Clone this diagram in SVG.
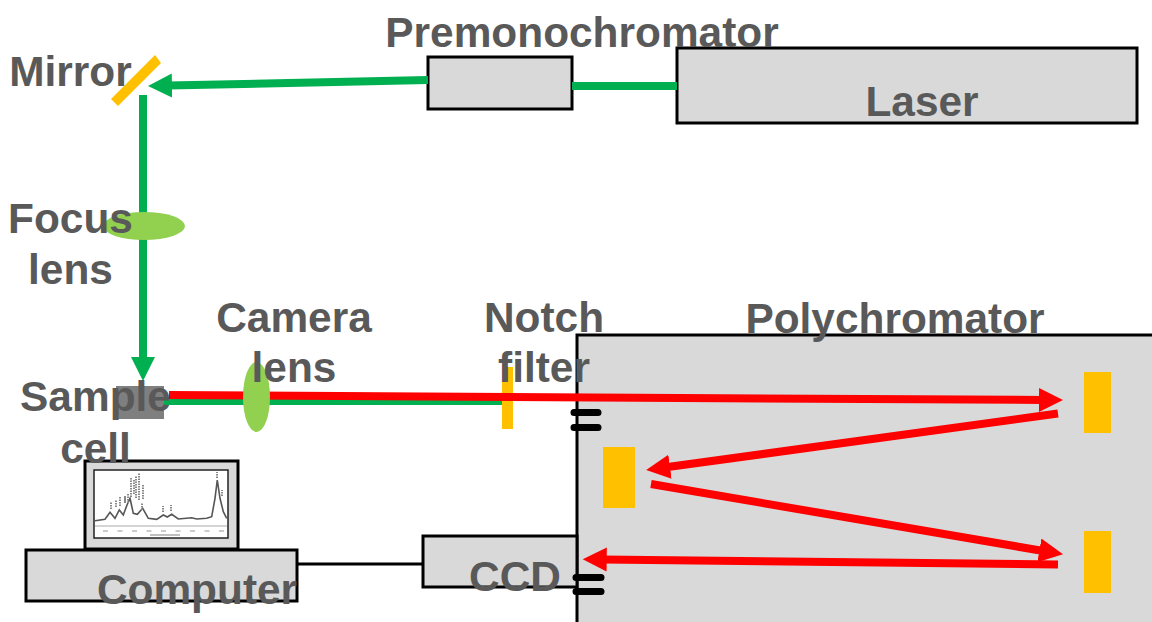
<svg xmlns="http://www.w3.org/2000/svg" width="1152" height="622" viewBox="0 0 1152 622">
<style>
.box{fill:#d9d9d9;stroke:#000;stroke-width:3}
.mir{fill:#ffc000}
.lens{fill:#92d050}
.g{stroke:#00b050;stroke-width:8;fill:none}
.r{stroke:#f00;stroke-width:8;fill:none}
.k{stroke:#000;fill:none}
.slit{stroke:#000;stroke-width:7;stroke-linecap:round}
text{font-family:"Liberation Sans",Arial,sans-serif;font-weight:700;font-size:42.400px;fill:#595959;text-anchor:middle}
</style>
<defs>
<marker id="ag" markerUnits="userSpaceOnUse" markerWidth="30" markerHeight="26" refX="4" refY="12" orient="auto"><path d="M0 0L24 12L0 24z" fill="#00b050"/></marker>
<marker id="ar" markerUnits="userSpaceOnUse" markerWidth="30" markerHeight="26" refX="4" refY="12" orient="auto"><path d="M0 0L24 12L0 24z" fill="#f00"/></marker>
</defs>
<g id="polychromator"><rect class="box" x="577" y="335" width="590" height="300"/></g>
<g id="laser"><rect class="box" x="677" y="48" width="460" height="75"/></g>
<g id="premonochromator"><rect class="box" x="428" y="57" width="144" height="52"/></g>
<g id="computer-base"><rect class="box" x="26" y="550" width="271" height="51"/></g>
<g id="ccd"><rect class="box" x="423" y="536" width="154" height="51"/></g>
<g id="notch-filter"><rect class="mir" x="502" y="367" width="11" height="62"/></g>
<g id="connectors">
<path class="g" d="M677 86H572"/>
<path class="g" d="M428 80L168 85.600" marker-end="url(#ag)"/>
<path class="g" d="M143 95V361" marker-end="url(#ag)"/>
<path class="g" d="M164 401H502"/>
<path class="r" d="M169 395L1043 400" marker-end="url(#ar)"/>
<path class="r" d="M1058 413.500L666 467.300" marker-end="url(#ar)"/>
<path class="r" d="M651 484L1043.300 551" marker-end="url(#ar)"/>
<path class="r" d="M1058 564.500L602.700 559.500" marker-end="url(#ar)"/>
<path class="k" stroke-width="3" d="M297 564H423"/>
</g>
<g id="mirror"><path class="mir" d="M155 55L161 63L118 106L111 99z"/></g>
<g id="focus-lens"><ellipse class="lens" cx="144" cy="226" rx="41" ry="14"/></g>
<g id="sample-cell"><rect x="116" y="386" width="48" height="33" fill="#7f7f7f"/></g>
<g id="camera-lens"><ellipse class="lens" cx="256.500" cy="397" rx="13.500" ry="35"/></g>
<g id="slits">
<path class="slit" d="M574 412.500H598M574 427.500H598M576 577.500H601M576 591.500H601"/>
</g>
<g id="grating-1"><rect class="mir" x="1084" y="372" width="27" height="61"/></g>
<g id="grating-2"><rect class="mir" x="603" y="447" width="32" height="61"/></g>
<g id="grating-3"><rect class="mir" x="1084" y="531" width="27" height="62"/></g>
<g id="monitor">
<rect x="85" y="461" width="153" height="88" fill="#d9d9d9" stroke="#000" stroke-width="3"/>
<rect x="94" y="470" width="134" height="68" fill="#fff" stroke="#222" stroke-width="1.500"/>
<path fill="none" stroke="#555" stroke-width="1.600" d="M95 520.700L105 519.300L110 512.300L115 518.300L119.300 510L123.300 515L127 505L130 498.300L133.300 513.300L137.300 514.300L142.700 508.300L148.300 518.300L156.700 519.300L163.300 515L167.300 517L171.700 514.300L178.300 519L191.700 517.700L196.700 519L206.700 518.300L211.700 516.700L215 498.300L217.300 480L220 498.300L223.300 511.700L226.700 518.300"/>
<path fill="none" stroke="#aaa" stroke-width="1" d="M95 526H227"/>
<g fill="none" stroke="#888" stroke-width="2" stroke-dasharray="1.500 1">
<path d="M111 509V502M116 507V500M120 506V497M125 503V497M125 502V496M128 503V494M131 497V477M134 494V480M136 498V476M139 500V473M142 510V503M143 499V484M163 512V506M171 511V505M217 478V472M222 496V490"/>
</g>
<path fill="none" stroke="#bbb" stroke-width="1.500" stroke-dasharray="5 9.500" d="M103 531H226"/>
<path fill="none" stroke="#aaa" stroke-width="1.500" d="M150 535H180"/>
</g>
<g id="labels">
<text x="582" y="47">Premonochromator</text>
<text x="922" y="116">Laser</text>
<text x="70.500" y="86">Mirror</text>
<text x="70.500" y="233">Focus</text>
<text x="70.500" y="284">lens</text>
<text x="294" y="332">Camera</text>
<text x="294" y="382">lens</text>
<text x="544" y="332">Notch</text>
<text x="544" y="382">filter</text>
<text x="895" y="333">Polychromator</text>
<text x="95.500" y="411">Sample</text>
<text x="95.500" y="463">cell</text>
<text x="197" y="604">Computer</text>
<text x="515" y="591">CCD</text>
</g>
</svg>
